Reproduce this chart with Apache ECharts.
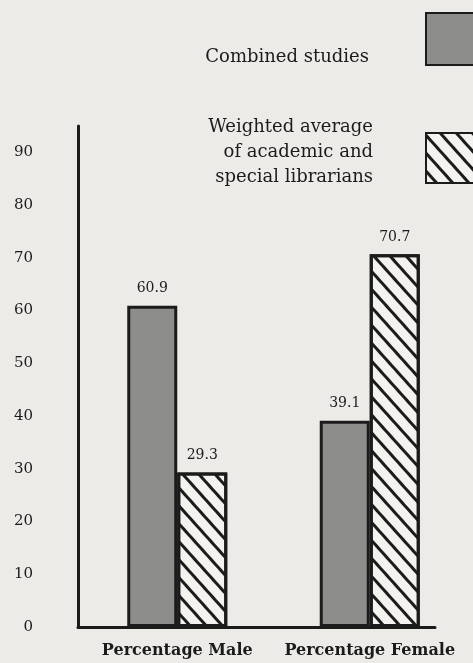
<!DOCTYPE html>
<html>
<head>
<meta charset="utf-8">
<script src="https://cdn.jsdelivr.net/npm/echarts@6/dist/echarts.min.js"></script>
<style>
html,body{margin:0;padding:0;background:#ecebe8;}
#chart{width:473px;height:663px;}
</style>
</head>
<body>
<div id="chart"></div>
<script>
const categories = ['Percentage Male', 'Percentage Female'];
const seriesNames = ['Combined studies', 'Weighted average\nof academic and\nspecial librarians'];
const combinedStudies = [60.9, 39.1];
const weightedAverage = [29.3, 70.7];
const yTicks = [0, 10, 20, 30, 40, 50, 60, 70, 80, 90];

const FONT = 'DejaVu Serif';
const INK = '#1b1b1b';
const hatch = {
  symbol: 'rect',
  symbolSize: 1,
  dashArrayX: [1, 0],
  dashArrayY: [3, 8.5],
  rotation: Math.PI * 48 / 180,
  color: INK
};

const chart = echarts.init(document.getElementById('chart'));
chart.setOption({
  backgroundColor: '#ecebe8',
  animation: false,
  grid: [
    {left: 81, width: 385, top: 126, bottom: 36},
    {left: 78, width: 357, top: 126, bottom: 36}
  ],
  xAxis: [
    {type: 'category', gridIndex: 0, data: categories,
     axisLine: {show: false}, axisTick: {show: false},
     axisLabel: {interval: 0, margin: 16, color: INK, fontFamily: FONT, fontSize: 16, fontWeight: 'bold'}},
    {type: 'category', gridIndex: 1, data: [''],
     axisLine: {show: true, lineStyle: {color: INK, width: 3}},
     axisTick: {show: false}, axisLabel: {show: false}}
  ],
  yAxis: [
    {type: 'value', gridIndex: 0, min: 0, max: 95, show: false},
    {type: 'value', gridIndex: 1, min: 0, max: 95, interval: 10,
     axisLine: {show: true, lineStyle: {color: INK, width: 3}},
     axisTick: {show: false}, splitLine: {show: false},
     axisLabel: {margin: 45, color: INK, fontFamily: FONT, fontSize: 15, showMaxLabel: false,
       formatter: v => yTicks.includes(v) ? String(v) : ''}}
  ],
  legend: [
    {data: [seriesNames[0]], orient: 'vertical', align: 'right', right: -6, top: 12, padding: 0,
     itemWidth: 52, itemHeight: 52, icon: 'rect',
     formatter: name => '{s| }\n{t|' + name + '}',
     textStyle: {fontFamily: FONT, fontSize: 18, color: INK, padding: [0, 52, 0, 0],
       rich: {s: {fontSize: 18, lineHeight: 36}, t: {fontFamily: FONT, fontSize: 18, color: INK, lineHeight: 20}}}},
    {data: [seriesNames[1]], orient: 'vertical', align: 'right', right: -6, top: 118, padding: 0,
     itemWidth: 52, itemHeight: 50, icon: 'rect',
     formatter: name => name.split('\n').map(l => '{t|' + l + '}').join('\n') + '\n{s| }',
     textStyle: {fontFamily: FONT, fontSize: 18, color: INK, padding: [0, 48, 0, 0],
       rich: {s: {fontSize: 10, lineHeight: 12}, t: {fontFamily: FONT, fontSize: 18, color: INK, lineHeight: 25}}}}
  ],
  series: [
    {name: seriesNames[0], type: 'bar', xAxisIndex: 0, yAxisIndex: 0, data: combinedStudies,
     barWidth: 50, barGap: '0%',
     itemStyle: {color: '#8d8d8b', borderColor: INK, borderWidth: 3},
     label: {show: true, position: 'top', distance: 10, color: INK, fontFamily: FONT, fontSize: 14,
       formatter: p => p.value.toFixed(1)}},
    {name: seriesNames[1], type: 'bar', xAxisIndex: 0, yAxisIndex: 0, data: weightedAverage,
     barWidth: 50, barGap: '0%',
     itemStyle: {color: '#f3f2ef', borderColor: INK, borderWidth: 3, decal: hatch},
     label: {show: true, position: 'top', distance: 10, color: INK, fontFamily: FONT, fontSize: 14,
       formatter: p => p.value.toFixed(1)}}
  ]
});
</script>
</body>
</html>
